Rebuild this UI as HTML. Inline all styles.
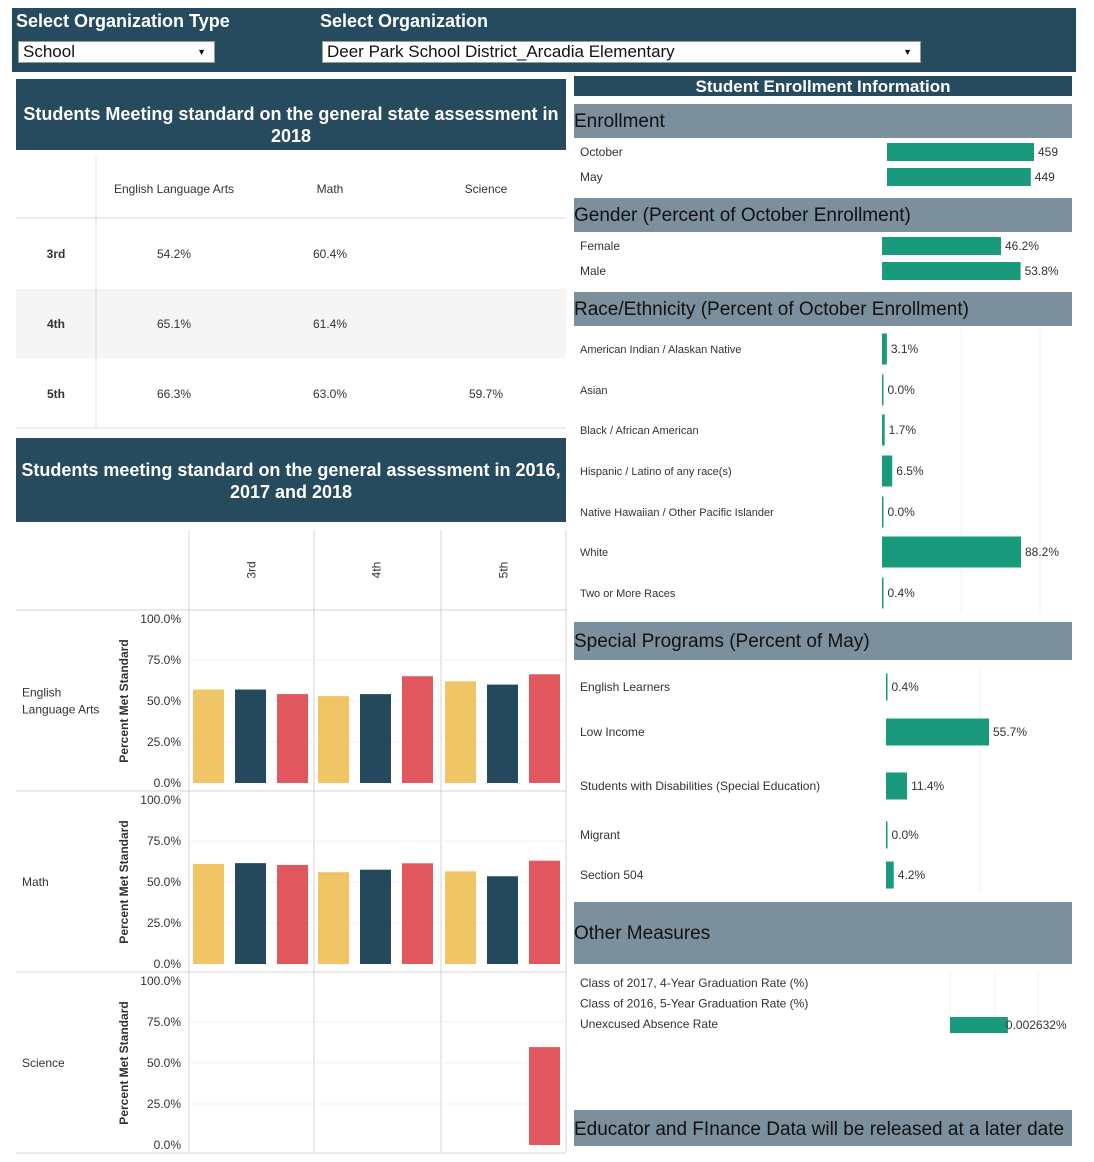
<!DOCTYPE html>
<html><head><meta charset="utf-8"><style>
body{margin:0;width:1094px;height:1162px;background:#fff;font-family:"Liberation Sans",sans-serif;position:relative;overflow:hidden}
.a{position:absolute}
.hd{background:#264a5e;color:#fff;font-weight:bold;text-align:center}
.gh{background:#7b909c;color:#111;font-size:19px}
.sel{background:#fff;border:1px solid #999;color:#111;font-size:17px;padding-left:4px;box-sizing:border-box;height:22px;line-height:20px}
svg text{font-family:"Liberation Sans",sans-serif}
</style></head><body>
<div class="a" style="left:12px;top:8px;width:1064px;height:64px;background:#264a5e"></div>
<div class="a" style="left:16px;top:11px;color:#fff;font-weight:bold;font-size:18px">Select Organization Type</div>
<div class="a" style="left:320px;top:11px;color:#fff;font-weight:bold;font-size:18px">Select Organization</div>
<div class="a sel" style="left:18px;top:41px;width:197px">School<span style="position:absolute;right:8px;font-size:9px">▼</span></div>
<div class="a sel" style="left:322px;top:41px;width:599px">Deer Park School District_Arcadia Elementary<span style="position:absolute;right:8px;font-size:9px">▼</span></div>
<div class="a hd" style="left:16px;top:79px;width:550px;height:71px;font-size:18px;line-height:22px;padding-top:24px;box-sizing:border-box">Students Meeting standard on the general state assessment in 2018</div>
<div class="a hd" style="left:16px;top:438px;width:550px;height:84px;font-size:18px;line-height:22px;padding-top:21px;box-sizing:border-box">Students meeting standard on the general assessment in 2016, 2017 and 2018</div>
<div class="a hd" style="left:574px;top:76px;width:498px;height:20px;font-size:17px;line-height:22px">Student Enrollment Information</div>
<div class="a gh" style="left:574px;top:104px;width:498px;height:34px;line-height:36px">Enrollment</div>
<div class="a gh" style="left:574px;top:198px;width:498px;height:34px;line-height:36px">Gender (Percent of October Enrollment)</div>
<div class="a gh" style="left:574px;top:292px;width:498px;height:34px;line-height:36px">Race/Ethnicity (Percent of October Enrollment)</div>
<div class="a gh" style="left:574px;top:622px;width:498px;height:38px;line-height:40px">Special Programs (Percent of May)</div>
<div class="a gh" style="left:574px;top:902px;width:498px;height:62px;line-height:64px">Other Measures</div>
<div class="a gh" style="left:574px;top:1110px;width:498px;height:36px;line-height:40px">Educator and FInance Data will be released at a later date</div>
<svg id="s" class="a" style="left:0;top:0" width="1094" height="1162"></svg>
<script>
const NS='http://www.w3.org/2000/svg',S=document.getElementById('s');
function el(t,a,txt){const e=document.createElementNS(NS,t);for(const k in a)e.setAttribute(k,a[k]);if(txt!=null)e.textContent=txt;S.appendChild(e);return e;}
// ---- table data
const tGrades=['3rd','4th','5th'];
const tSubjects=['English Language Arts','Math','Science'];
const tValues=[['54.2%','60.4%',''],['65.1%','61.4%',''],['66.3%','63.0%','59.7%']];
let r=el('rect',{x:16,y:289,width:550,height:69,fill:'#f5f5f5'});

el('line',{x1:96,y1:158,x2:96,y2:428,stroke:'#ddd'});
el('line',{x1:16,y1:218,x2:566,y2:218,stroke:'#ddd'});
el('line',{x1:16,y1:428,x2:566,y2:428,stroke:'#ddd'});
const colX=[174,330,486];
tSubjects.forEach((s,i)=>{const t=el('text',{x:colX[i],y:193,'font-size':12,fill:'#333','text-anchor':'middle'},s);});
tGrades.forEach((g,i)=>{const y=258+i*70;
 const t=el('text',{x:56,y:y,'font-size':12,'font-weight':'bold',fill:'#333','text-anchor':'middle'},g);
 tValues[i].forEach((v,j)=>{const c=el('text',{x:colX[j],y:y,'font-size':12,fill:'#333','text-anchor':'middle'},v);});});
// ---- bar chart data
const grades=['3rd','4th','5th'];
const subjects=['English\nLanguage Arts','Math','Science'];
const yTicks=[0,25,50,75,100];
const ela2016=[57,53,62], ela2017=[57,54.2,60], ela2018=[54.2,65.1,66.3];
const math2016=[61,56,56.5], math2017=[61.5,57.5,53.5], math2018=[60.4,61.4,63.0];
const sci2016=[null,null,null], sci2017=[null,null,null], sci2018=[null,null,59.7];
const series=[[ela2016,ela2017,ela2018],[math2016,math2017,math2018],[sci2016,sci2017,sci2018]];
const colors=['#f0c566','#24485c','#e0575d'];
const panelTop=[619,800,981],plotH=164,colLeft=[189,314,441],colW=125;
function yS(p,v){return panelTop[p]+plotH-v/100*plotH;}
[189,314,441,566].forEach(x=>el('line',{x1:x,y1:530,x2:x,y2:1152,stroke:'#d4d4d4'}));
[610,791,972,1153].forEach(y=>el('line',{x1:16,y1:y,x2:566,y2:y,stroke:'#d4d4d4'}));
grades.forEach((g,i)=>{const x=colLeft[i]+colW/2+4;const t=el('text',{x:x,y:570,'font-size':12,fill:'#333','text-anchor':'middle',transform:`rotate(-90 ${x} 570)`},g);});
subjects.forEach((s,p)=>{
 yTicks.forEach(v=>{const y=yS(p,v);if(v>0&&v<100)el('line',{x1:189,y1:y,x2:566,y2:y,stroke:'#f0f0f0'});
  const t=el('text',{x:181,y:y+4,'font-size':12,fill:'#333','text-anchor':'end'},v.toFixed(1)+'%');});
 const cy=panelTop[p]+plotH/2;
 const at=el('text',{x:128,y:cy,'font-size':12,'font-weight':'bold',fill:'#333','text-anchor':'middle',transform:`rotate(-90 128 ${cy})`},'Percent Met Standard');
 s.split('\n').forEach((ln,k,arr)=>{const t=el('text',{x:22,y:cy+4+(k-(arr.length-1)/2)*17,'font-size':12,fill:'#333'},ln);});
 series[p].forEach((ser,si)=>ser.forEach((v,gi)=>{if(v==null)return;
  const b=el('rect',{x:colLeft[gi]+4+si*42,y:yS(p,v),width:31,height:v/100*plotH,fill:colors[si]});
  }));
});
// ---- right side bars
function hbars(name,labels,values,fmt,x0,scale,rowY,h,grid,lfs){
 grid.forEach(gx=>el('line',{x1:gx,y1:rowY[0]-h/2-4,x2:gx,y2:rowY[rowY.length-1]+h/2+4,stroke:'#f0f0f0'}));
 labels.forEach((l,i)=>{const y=rowY[i];
  const t=el('text',{x:580,y:y+4,'font-size':lfs,fill:'#333'},l);
  const w=Math.max(values[i]*scale,1.5);
  const b=el('rect',{x:x0,y:y-h/2,width:w,height:h,fill:'#1a9a7c'});
  const v=el('text',{x:x0+w+4,y:y+4,'font-size':12,fill:'#333'},fmt(values[i]));});
}
const enrLabels=['October','May'], enrValues=[459,449];
hbars('enrollment',enrLabels,enrValues,v=>String(v),887,147/459,[152,177],18,[],12);
const genLabels=['Female','Male'], genValues=[46.2,53.8];
hbars('gender',genLabels,genValues,v=>v.toFixed(1)+'%',882,119/46.2,[246,271],18,[],12);
const raceLabels=['American Indian / Alaskan Native','Asian','Black / African American','Hispanic / Latino of any race(s)','Native Hawaiian / Other Pacific Islander','White','Two or More Races'];
const raceValues=[3.1,0.0,1.7,6.5,0.0,88.2,0.4];
hbars('race',raceLabels,raceValues,v=>v.toFixed(1)+'%',882,139/88.2,[349,390,430,471,512,552,593],31,[961,1040],11);
const spLabels=['English Learners','Low Income','Students with Disabilities (Special Education)','Migrant','Section 504'];
const spValues=[0.4,55.7,11.4,0.0,4.2];
hbars('special',spLabels,spValues,v=>v.toFixed(1)+'%',886,103/55.7,[687,732,786,835,875],27,[980],12);
const omLabels=['Class of 2017, 4-Year Graduation Rate (%)','Class of 2016, 5-Year Graduation Rate (%)','Unexcused Absence Rate'];
const omValues=[null,null,0.002632];
[950,995,1038].forEach(gx=>el('line',{x1:gx,y1:972,x2:gx,y2:1034,stroke:'#f0f0f0'}));
omLabels.forEach((l,i)=>{const y=983+i*20.5;const t=el('text',{x:580,y:y+4,'font-size':12,fill:'#333'},l);
 if(omValues[i]!=null){const w=omValues[i]*22000;const b=el('rect',{x:950,y:y-7,width:w,height:16,fill:'#1a9a7c'});
  const v=el('text',{x:950+w-2,y:y+5,'font-size':12,fill:'#333'},omValues[i].toFixed(6)+'%');}});
</script>
</body></html>
